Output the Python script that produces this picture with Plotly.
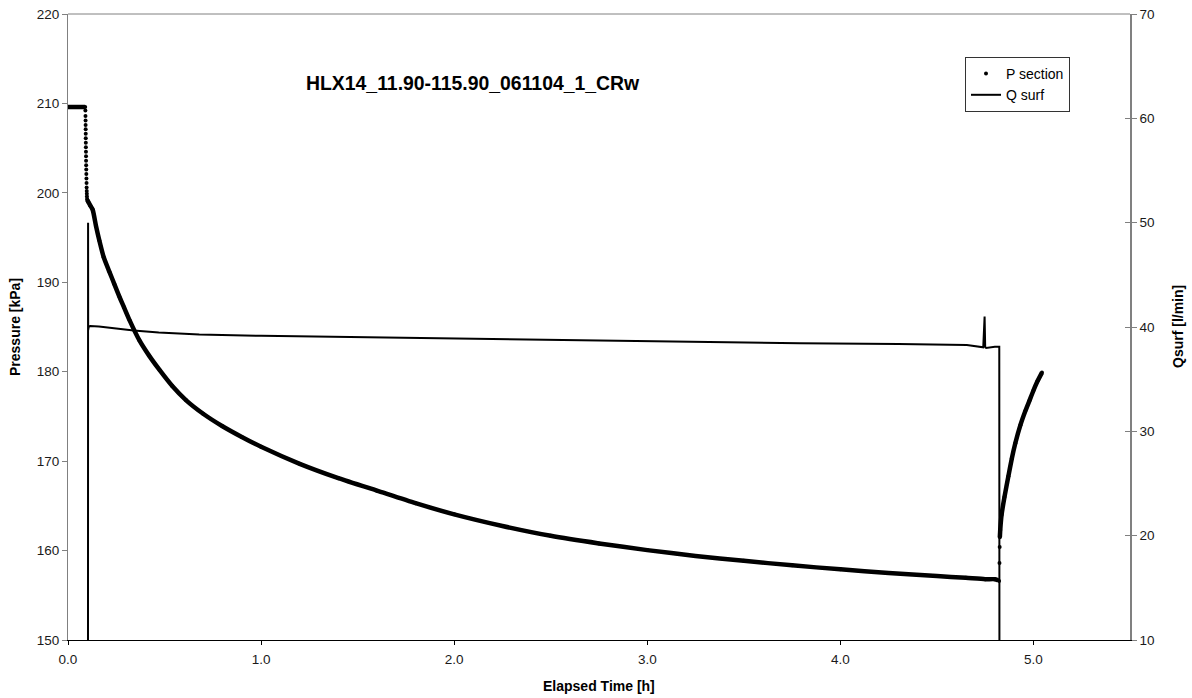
import plotly.graph_objects as go

# ---------------- data ----------------
# P section [kPa] vs elapsed time [h]
t_flat = [0.0, 0.02, 0.04, 0.06, 0.08, 0.089]
p_flat = [209.6, 209.6, 209.6, 209.6, 209.6, 209.6]

t_drop = [0.090, 0.0905, 0.091, 0.0912, 0.0915, 0.0918, 0.092, 0.0923, 0.0926, 0.093,
          0.0933, 0.0936, 0.094, 0.0945, 0.095, 0.0955, 0.096, 0.0965, 0.097, 0.0975,
          0.098, 0.099]
p_drop = [209.2, 208.6, 208.1, 207.6, 207.1, 206.6, 206.1, 205.6, 205.1, 204.6,
          204.1, 203.6, 203.1, 202.6, 202.1, 201.6, 201.1, 200.6, 200.2, 199.9,
          199.6, 199.3]

t_decl = [0.100, 0.105, 0.115, 0.128, 0.145, 0.162, 0.185, 0.214, 0.24, 0.266, 0.29,
          0.318, 0.37, 0.42, 0.474, 0.54, 0.612, 0.70, 0.80, 0.90, 1.00, 1.20, 1.40,
          1.60, 1.80, 2.00, 2.25, 2.50, 2.75, 3.00, 3.25, 3.50, 3.75, 4.00, 4.25,
          4.50, 4.65, 4.75, 4.80, 4.815]
p_decl = [199.2, 199.0, 198.6, 198.1, 196.3, 194.7, 192.8, 191.2, 189.8, 188.4, 187.2,
          185.8, 183.5, 181.8, 180.2, 178.4, 176.8, 175.3, 173.9, 172.7, 171.6, 169.7,
          168.1, 166.7, 165.3, 164.05, 162.75, 161.65, 160.8, 160.05, 159.4, 158.85,
          158.35, 157.9, 157.5, 157.15, 156.95, 156.8, 156.8, 156.7]

t_jump = [4.822, 4.824, 4.825]
p_jump = [156.6, 158.6, 160.4]

t_rec = [4.826, 4.828, 4.835, 4.85, 4.87, 4.888, 4.906, 4.932, 4.958, 4.98, 5.0, 5.02, 5.044]
p_rec = [161.5, 162.3, 164.0, 166.0, 168.3, 170.3, 172.0, 174.0, 175.6, 176.8, 177.9, 178.9, 179.9]

# Q surf [l/min] vs elapsed time [h]
t_q = [0.0, 0.1035, 0.104, 0.1045, 0.107, 0.115, 0.16, 0.25, 0.34, 0.47, 0.68, 1.0,
       1.4, 1.72, 2.1, 2.5, 2.75, 3.2, 3.79, 4.3, 4.655, 4.74, 4.745, 4.747, 4.75,
       4.755, 4.80, 4.823, 4.824, 5.5]
q = [0.0, 0.0, 50.0, 39.7, 40.0, 40.1, 40.05, 39.85, 39.66, 39.47, 39.28, 39.15,
     39.05, 38.98, 38.85, 38.72, 38.67, 38.58, 38.45, 38.38, 38.28, 38.06, 39.5, 41.0,
     38.1, 38.0, 38.1, 38.1, 0.0, 0.0]

x_ticks = [0, 1, 2, 3, 4, 5]
title_text = "HLX14_11.90-115.90_061104_1_CRw"

# ---------------- figure ----------------
FONT = "Liberation Sans, Arial, sans-serif"
GRAY = "#808080"

fig = go.Figure()

# thick band for the dense pressure record (no line through the sparse drop)
line_t = t_flat + [None] + t_decl + [None] + t_rec
line_p = p_flat + [None] + p_decl + [None] + p_rec
fig.add_trace(go.Scatter(x=line_t, y=line_p, mode="lines", connectgaps=False,
                         line=dict(color="black", width=4.5, shape="spline",
                                   smoothing=0.6),
                         showlegend=False, hoverinfo="skip", yaxis="y"))
fig.add_trace(go.Scatter(x=t_flat + t_drop + t_decl + t_jump + t_rec,
                         y=p_flat + p_drop + p_decl + p_jump + p_rec,
                         mode="markers", name="P section",
                         marker=dict(color="black", size=4), yaxis="y"))
fig.add_trace(go.Scatter(x=t_q, y=q, mode="lines", name="Q surf",
                         line=dict(color="black", width=2), yaxis="y2"))

fig.update_layout(
    template="none",
    width=1192, height=698,
    margin=dict(l=68, r=62, t=14, b=58, pad=0, autoexpand=False),
    paper_bgcolor="white", plot_bgcolor="white",
    font=dict(family=FONT, size=13.5, color="#1a1a1a"),
    showlegend=True,
    legend=dict(x=(965 - 68) / 1062, y=1 - (57 - 14) / 626, xanchor="left",
                yanchor="top", bgcolor="white", bordercolor="#333333",
                borderwidth=1, font=dict(family=FONT, size=14, color="black"),
                tracegroupgap=0, itemwidth=30),
    xaxis=dict(range=[0, 5.5], tickvals=x_ticks, tickformat=".1f",
               showgrid=False, zeroline=False, showline=True, linecolor="black",
               linewidth=1, ticks="outside", ticklen=4, tickcolor="black",
               tickwidth=1, tickfont=dict(size=13.5), ticklabelstandoff=3,
               automargin=False),
    yaxis=dict(range=[150, 220], dtick=10, showgrid=False, zeroline=False,
               showline=True, linecolor=GRAY, linewidth=1, ticks="outside",
               ticklen=5, tickcolor=GRAY, tickwidth=1,
               tickfont=dict(size=13.5), automargin=False),
    yaxis2=dict(range=[10, 70], dtick=10, overlaying="y", side="right",
                anchor="x", showgrid=False, zeroline=False, showline=True,
                linecolor=GRAY, linewidth=1.5, ticks="outside", ticklen=5,
                tickcolor=GRAY, tickwidth=1, tickfont=dict(size=13.5),
                automargin=False),
    yaxis3=dict(range=[10, 70], dtick=10, overlaying="y", side="right",
                anchor="x", showgrid=False, zeroline=False, showline=False,
                ticks="inside", ticklen=5, tickcolor=GRAY, tickwidth=1,
                showticklabels=False, automargin=False),
    shapes=[dict(type="line", xref="paper", yref="paper", x0=0, x1=1, y0=1, y1=1,
                 line=dict(color=GRAY, width=1))],
    annotations=[
        dict(text="<b>" + title_text + "</b>", xref="paper", yref="paper",
             x=(473 - 68) / 1062, y=1 - (83 - 14) / 626, xanchor="center",
             yanchor="middle", showarrow=False,
             font=dict(family=FONT, size=19.4, color="black")),
        dict(text="<b>Elapsed Time [h]</b>", xref="paper", yref="paper",
             x=0.5, y=-(686 - 640) / 626, xanchor="center", yanchor="middle",
             showarrow=False, font=dict(family=FONT, size=14, color="black")),
        dict(text="<b>Pressure [kPa]</b>", xref="paper", yref="paper",
             x=-(68 - 15) / 1062, y=0.5, xanchor="center", yanchor="middle",
             textangle=-90, showarrow=False,
             font=dict(family=FONT, size=14, color="black")),
        dict(text="<b>Qsurf [l/min]</b>", xref="paper", yref="paper",
             x=1 + (1178 - 1130) / 1062, y=0.5, xanchor="center", yanchor="middle",
             textangle=-90, showarrow=False,
             font=dict(family=FONT, size=14, color="black")),
    ],
)

# a helper trace so yaxis3 (inner half of the cross ticks) is rendered
fig.add_trace(go.Scatter(x=[None], y=[None], yaxis="y3", showlegend=False,
                         hoverinfo="skip"))

fig.write_html("out.html")
